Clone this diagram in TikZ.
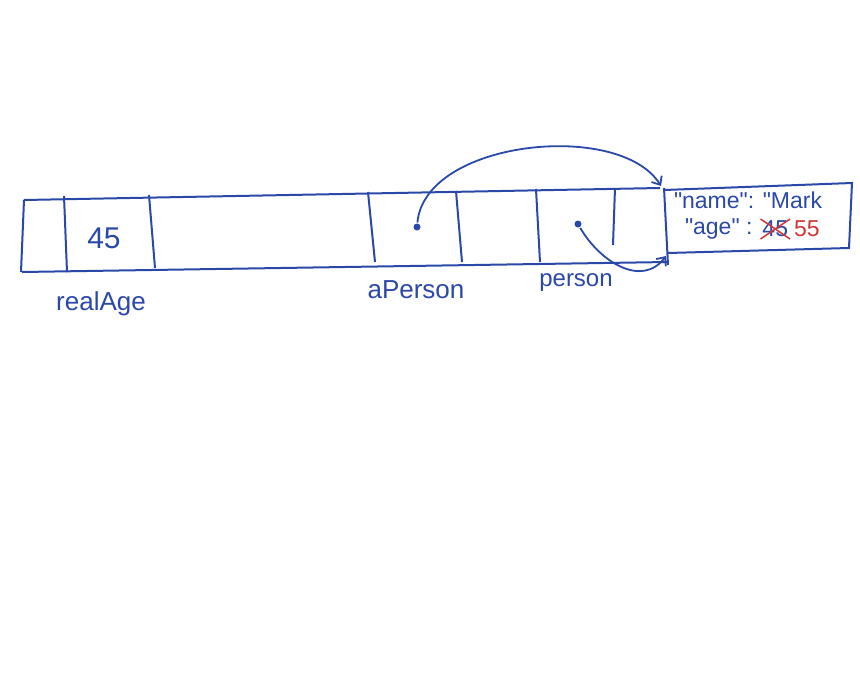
\documentclass[tikz,border=0pt]{standalone}
\usepackage{fontspec}
\setmainfont{Liberation Sans}
\usepackage{tikz}
\usetikzlibrary{positioning,arrows.meta}
\definecolor{inkblue}{RGB}{42,72,168}
\definecolor{inkred}{RGB}{205,55,55}
\newcommand{\dq}{\textquotedbl}

\begin{document}
\begin{tikzpicture}[x=1pt,y=-1pt,line width=2pt,inkblue,
  every node/.style={text=inkblue,font=\fontsize{26}{28}\selectfont},
  small/.style={font=\fontsize{23}{26}\selectfont,inner sep=1pt},
  dot/.style={circle,fill=inkblue,inner sep=0pt,minimum size=7pt},
  pointer/.style={-{Straight Barb[length=7pt,width=12pt]},line width=1.8pt}]
\useasboundingbox (0,0) rectangle (860,675);
% the memory strip
\draw (24,200) -- (660,188);
\draw (22,272) -- (668,262);
\draw (24,200) -- (21,272);
\draw (64,196) -- (67,272);
\draw (149,195) -- (155,268);
\draw (368,192) -- (375,262);
\draw (456,191) -- (462,262);
\draw (536,189) -- (540,262);
\draw (615,188) -- (613,245);
\draw (664,188) -- (668,265);
% the object
\draw (664,190) -- (852,183) -- (849,248) -- (668,253);
% values and names
\node[font=\fontsize{30}{32}\selectfont] (val) at (104,238) {45};
\node (realAge) at (101,304) {realAge};
\node (aPerson) at (416,290) {aPerson};
\node[font=\fontsize{24}{26}\selectfont] (person) at (576,283) {person};
\node[small,right] (objname) at (672,200) {\dq name\dq: \dq Mark};
\node[small,right] (agekey) at (683,229) {\dq age\dq\ :};
\node[small,right=6pt of agekey] (oldage) {45};
\node[small,right=2pt of oldage,text=inkred] (newage) {55};
\draw[inkred,line width=1.5pt] (oldage.north west) -- (oldage.south east);
\draw[inkred,line width=1.5pt] (oldage.south west) -- (oldage.north east);
% references
\node[dot] (refA) at (417,227) {};
\node[dot] (refB) at (578,224) {};
\coordinate (objtop) at (661,186);
\coordinate (objbot) at (666,256);
\draw[pointer] (refA) .. controls (425,140) and (620,120) .. (objtop);
\draw[pointer] (refB) .. controls (600,262) and (642,288) .. (objbot);
\end{tikzpicture}
\end{document}
